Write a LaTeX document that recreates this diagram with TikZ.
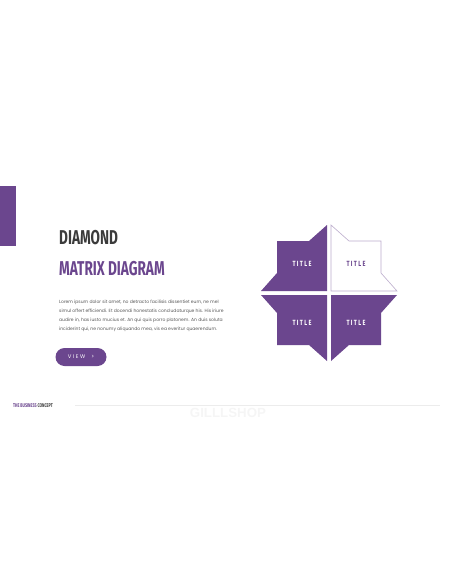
\documentclass[tikz,border=0pt]{standalone}
\usepackage{fontspec}
\setmainfont{Poppins}
\newfontfamily\headfont[FakeStretch=0.68]{Fira Sans}
\newfontfamily\titlefont[FakeStretch=0.75,LetterSpace=18]{Fira Sans}
\newfontfamily\btnfont[LetterSpace=30]{Poppins}
\newfontfamily\markfont{Liberation Sans}
\definecolor{plum}{RGB}{107,70,142}
\definecolor{ink}{RGB}{59,59,59}
\begin{document}
\begin{tikzpicture}[x=1pt, y=-1pt,
  quad/.style={fill=plum},
  quadw/.style={draw=plum!45, line width=0.6pt, fill=white},
  ttl/.style={font=\titlefont\bfseries\fontsize{7.5}{8}\selectfont, inner sep=0pt},
  head/.style={font=\headfont\bfseries\fontsize{20}{22}\selectfont, anchor=base west, inner sep=0pt},
  btn/.style={fill=plum, rounded corners=9pt, minimum width=51pt, minimum height=18pt,
    text=white, font=\btnfont\fontsize{5.3}{6}\selectfont},
]
  \useasboundingbox (0,0) rectangle (456,586);
  % side bar
  \fill[plum] (0,186) rectangle (16,246);
  % headings and copy
  \node[head, text=ink] (H1) at (59,244) {DIAMOND};
  \node[head, text=plum] (H2) at (59,275) {MATRIX DIAGRAM};
  \node[anchor=base west, inner sep=0pt, align=left, text=ink!85,
    font=\fontsize{4.5}{9}\selectfont] (copy) at (59,330)
    {Lorem ipsum dolor sit amet, no detracto facilisis dissentiet eum, ne mel\\
     simul offert efficiendi. Et docendi honestatis concludaturque his. His iriure\\
     audire in, has iusto mucius et. An qui quis porro platonem. An duis soluta\\
     inciderint qui, ne nonumy aliquando mea, vis ea everitur quaerendum.};
  \node[btn] (view) at (81,357) {VIEW\ \ >};
  % diamond
  \begin{scope}[shift={(329,293)}]
    \fill[quad] (-2,-2) -- (-2,-68) -- (-20,-52) -- (-52,-52) -- (-52,-20) -- (-68,-2) -- cycle;
    \draw[quadw] (2,-2) -- (2,-68) -- (20,-52) -- (52,-52) -- (52,-20) -- (68,-2) -- cycle;
    \fill[quad] (-2,2) -- (-2,68) -- (-20,52) -- (-52,52) -- (-52,20) -- (-68,2) -- cycle;
    \fill[quad] (2,2) -- (2,68) -- (20,52) -- (52,52) -- (52,20) -- (68,2) -- cycle;
    \node[ttl, text=white] (T1) at (-27,-29) {TITLE};
    \node[ttl, text=plum] (T2) at (27,-29) {TITLE};
    \node[ttl, text=white] (T3) at (-27,30) {TITLE};
    \node[ttl, text=white] (T4) at (27,30) {TITLE};
  \end{scope}
  % footer
  \node[anchor=base west, inner sep=0pt, font=\headfont\bfseries\fontsize{5.4}{6}\selectfont]
    (brand) at (13,407) {\textcolor{plum}{THE BUSINESS} \textcolor{ink}{CONCEPT}};
  \draw[gray!15, line width=0.5pt] (75,405) -- (440,405);
  \node[font=\markfont\bfseries\fontsize{13.3}{14}\selectfont, text=gray!8, inner sep=0pt]
    (mark) at (228,412.5) {GILLLSHOP};
\end{tikzpicture}
\end{document}
